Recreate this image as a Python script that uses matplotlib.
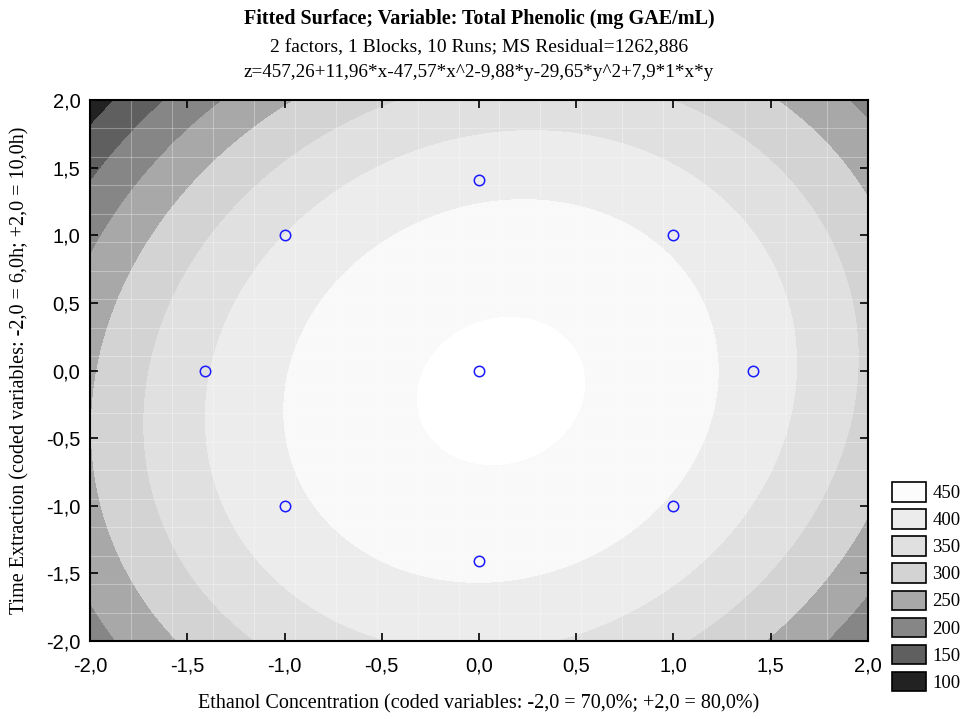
import numpy as np
import matplotlib
matplotlib.use("Agg")
import matplotlib.pyplot as plt
from matplotlib.patches import Rectangle
from matplotlib.ticker import FuncFormatter, MultipleLocator

# --- fitted model coefficients (from the chart subtitle) ---
b0, bx, bxx, by, byy, bxy = 457.26, 11.96, -47.57, -9.88, -29.65, 7.9

# --- design points (coded) ---
pts_x = [-1, 1, -1, 1, -1.41, 1.41, 0, 0, 0]
pts_y = [-1, -1, 1, 1, 0, 0, -1.41, 1.41, 0]

# --- contour bands and legend ---
levels = [-1000, 100, 150, 200, 250, 300, 350, 400, 450, 1000]
band_colors = ["#222222", "#5f5f5f", "#868686", "#a8a8a8", "#d3d3d3",
               "#e0e0e0", "#ececec", "#f9f9f9", "#ffffff"]
legend_labels = ["450", "400", "350", "300", "250", "200", "150", "100"]
legend_colors = ["#fcfcfc", "#ececec", "#e0e0e0", "#d3d3d3",
                 "#a8a8a8", "#868686", "#5f5f5f", "#222222"]

serif = ["Liberation Serif", "DejaVu Serif"]
sans = ["Liberation Sans", "DejaVu Sans"]

g = np.linspace(-2, 2, 201)
X, Y = np.meshgrid(g, g)
Z = b0 + bx * X + bxx * X**2 + by * Y + byy * Y**2 + bxy * X * Y

fig = plt.figure(figsize=(9.7, 7.19), dpi=100)
ax = fig.add_axes([0.0928, 0.1085, 0.802, 0.7524])
ax.contourf(X, Y, Z, levels=levels, colors=band_colors)

# faint surface mesh lines
mesh = np.linspace(-2, 2, 20)
ax.set_xticks(mesh, minor=True)
ax.set_yticks(mesh, minor=True)
ax.grid(which="minor", color="white", alpha=0.3, lw=0.8)
ax.tick_params(which="minor", length=0)

ax.plot(pts_x, pts_y, "o", mfc="none", mec="#1a1aff", ms=7.5, mew=1.1)

ax.set_xlim(-2, 2)
ax.set_ylim(-2, 2)
ax.xaxis.set_major_locator(MultipleLocator(0.5))
ax.yaxis.set_major_locator(MultipleLocator(0.5))
fmt = FuncFormatter(lambda v, p: ("%.1f" % v).replace(".", ","))
ax.xaxis.set_major_formatter(fmt)
ax.yaxis.set_major_formatter(fmt)
ax.tick_params(which="major", direction="in", top=True, right=True,
               length=6, width=1.2, labelsize=14.5)
ax.tick_params(axis="x", which="major", pad=11)
ax.tick_params(axis="y", which="major", pad=7)
for lab in ax.get_xticklabels() + ax.get_yticklabels():
    lab.set_family(sans)
for s in ax.spines.values():
    s.set_linewidth(1.5)

ax.set_xlabel("Ethanol Concentration (coded variables: -2,0 = 70,0%; +2,0 = 80,0%)",
              family=serif, fontsize=14.5, labelpad=14)
ax.set_ylabel("Time Extraction (coded variables: -2,0 = 6,0h; +2,0 = 10,0h)",
              family=serif, fontsize=14.5, labelpad=12)

fig.text(0.494, 0.974, "Fitted Surface; Variable: Total Phenolic (mg GAE/mL)",
         ha="center", va="center", family=serif, fontsize=14.5, weight="bold")
fig.text(0.494, 0.934, "2 factors, 1 Blocks, 10 Runs; MS Residual=1262,886",
         ha="center", va="center", family=serif, fontsize=14)
fig.text(0.494, 0.899, "z=457,26+11,96*x-47,57*x^2-9,88*y-29,65*y^2+7,9*1*x*y",
         ha="center", va="center", family=serif, fontsize=13.8)

handles = [Rectangle((0, 0), 1, 1, fc=c, ec="black", lw=1.2) for c in legend_colors]
fig.legend(handles, legend_labels, loc="lower left",
           bbox_to_anchor=(0.9196, 0.038), frameon=False,
           prop={"family": serif, "size": 13.5}, handlelength=1.81,
           handleheight=1.2, labelspacing=0.38, handletextpad=0.35,
           borderpad=0, borderaxespad=0)

fig.savefig("out.png", dpi=100)
